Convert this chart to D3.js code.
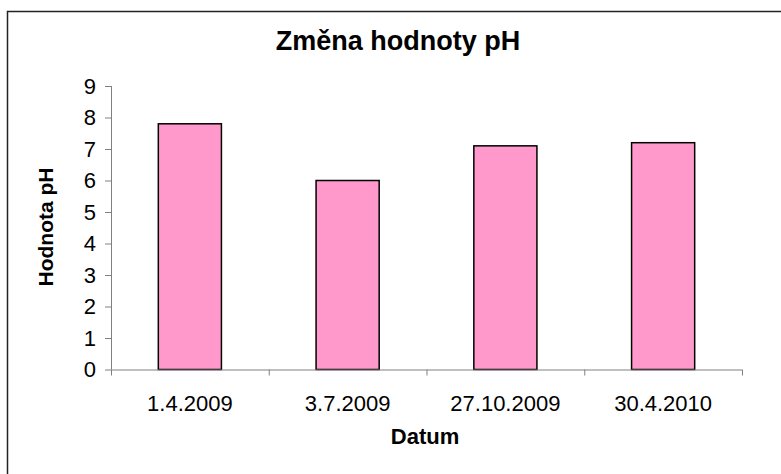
<!DOCTYPE html>
<html>
<head>
<meta charset="utf-8">
<script src="https://cdn.jsdelivr.net/npm/d3@7"></script>
<style>
  body { margin: 0; background: #fff; }
  svg { display: block; font-family: "Liberation Sans", Arial, sans-serif; }
  .axis path, .axis line { stroke: #808080; }
  .axis text { fill: #000; font-size: 22px; }
</style>
</head>
<body>
<div id="chart"></div>
<script>
// data
var dates = ["1.4.2009", "3.7.2009", "27.10.2009", "30.4.2010"];
var phValues = [7.8, 6.0, 7.1, 7.2];
var yTicks = [0, 1, 2, 3, 4, 5, 6, 7, 8, 9];

var width = 781, height = 474;
var margin = {top: 86, right: 39, bottom: 104.5, left: 111};

var svg = d3.select("#chart").append("svg")
    .attr("width", width)
    .attr("height", height);

// outer frame (only top and left edges show in the picture)
svg.append("rect")
    .attr("x", 7.5).attr("y", 11.5)
    .attr("width", width + 20).attr("height", height + 20)
    .attr("fill", "none")
    .attr("stroke", "#222")
    .attr("stroke-width", 1.5);

var x = d3.scaleBand()
    .domain(dates)
    .range([margin.left, width - margin.right])
    .paddingInner(0.6)
    .paddingOuter(0.3);

var y = d3.scaleLinear()
    .domain([0, 9])
    .range([height - margin.bottom, margin.top]);

// bars
svg.append("g")
  .selectAll("rect")
  .data(dates)
  .enter().append("rect")
    .attr("x", function(d) { return x(d); })
    .attr("y", function(d, i) { return y(phValues[i]); })
    .attr("width", x.bandwidth())
    .attr("height", function(d, i) { return y(0) - y(phValues[i]); })
    .attr("fill", "#ff99cc")
    .attr("stroke", "#000")
    .attr("stroke-width", 1.5);

// y axis
svg.append("g")
    .attr("class", "axis y-axis")
    .attr("transform", "translate(" + margin.left + ",0)")
    .call(d3.axisLeft(y).tickValues(yTicks).tickSize(6).tickSizeOuter(0).tickPadding(9))
    .call(function(g) { g.select(".domain").attr("d", "M0.5," + y(9) + "V" + y(0)); })
    .selectAll("line").attr("x2", -6);

// x axis: line, ticks between categories, labels under bars
var step = x.step();
var bounds = dates.map(function(d) { return x(d) - step * x.paddingInner() / 2; });
bounds.push(x(dates[dates.length - 1]) + x.bandwidth() + step * x.paddingInner() / 2);

var xAxis = svg.append("g").attr("class", "axis x-axis");
xAxis.append("line")
    .attr("x1", bounds[0]).attr("x2", bounds[bounds.length - 1])
    .attr("y1", y(0) + 0.5).attr("y2", y(0) + 0.5);
xAxis.selectAll(".tick-mark")
  .data(bounds)
  .enter().append("line")
    .attr("x1", function(d) { return d + 0.5; })
    .attr("x2", function(d) { return d + 0.5; })
    .attr("y1", y(0)).attr("y2", y(0) + 6);
xAxis.selectAll(".lbl")
  .data(dates)
  .enter().append("text")
    .attr("x", function(d) { return x(d) + x.bandwidth() / 2; })
    .attr("y", 411)
    .attr("text-anchor", "middle")
    .text(function(d) { return d; });

// titles
svg.append("text")
    .attr("x", 398).attr("y", 50)
    .attr("text-anchor", "middle")
    .style("font-size", "27px").style("font-weight", "bold")
    .text("Změna hodnoty pH");

svg.append("text")
    .attr("x", 425).attr("y", 444)
    .attr("text-anchor", "middle")
    .style("font-size", "22px").style("font-weight", "bold")
    .text("Datum");

svg.append("text")
    .attr("transform", "translate(53,227) rotate(-90)")
    .attr("text-anchor", "middle")
    .style("font-size", "21px").style("font-weight", "bold")
    .text("Hodnota pH");
</script>
</body>
</html>
